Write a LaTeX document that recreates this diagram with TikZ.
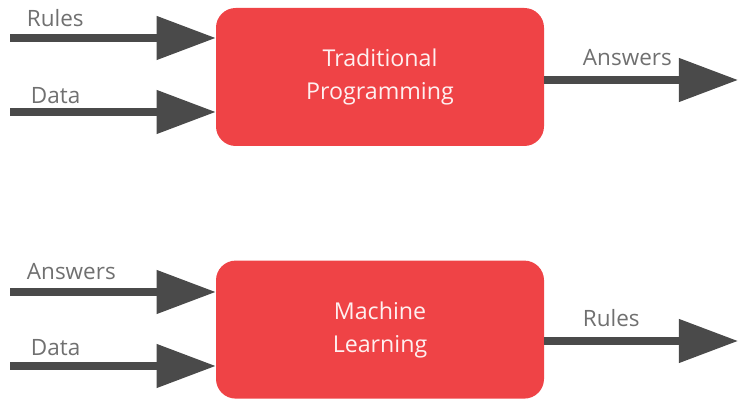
\documentclass[tikz,border=0pt]{standalone}
\usepackage{fontspec}
\setmainfont{Open Sans}
\usetikzlibrary{arrows.meta}
\definecolor{boxred}{HTML}{EF4346}
\definecolor{arrowgray}{HTML}{4A4A4A}
\definecolor{labelgray}{HTML}{707070}
\tikzset{
  procbox/.style={fill=boxred,rounded corners=14pt,minimum width=8.2cm,minimum height=3.45cm,
    text=white!92!boxred,align=center,font=\fontsize{16.5}{23.5}\selectfont},
  flow/.style={draw=arrowgray,line width=5pt,-{Triangle[length=42pt,width=30pt]}},
  flowlabel/.style={anchor=west,text=labelgray,font=\fontsize{16}{20}\selectfont}
}
\begin{document}
\begin{tikzpicture}[]
\useasboundingbox (0,0) rectangle (18.45,10);
\node[procbox] (tradprog) at (9.5,8.075) {Traditional\\Programming};
\node[procbox] (mlbox) at (9.5,1.76) {Machine\\Learning};
\coordinate (rulesin) at (0.25,9.05);
\coordinate (datain) at (0.25,7.2);
\coordinate (answersout) at (18.45,8.0);
\coordinate (answersin) at (0.25,2.7);
\coordinate (datamlin) at (0.25,0.85);
\coordinate (rulesout) at (18.45,1.475);
\draw[flow] (rulesin) -- (rulesin -| tradprog.west);
\draw[flow] (datain) -- (datain -| tradprog.west);
\draw[flow] (answersout -| tradprog.east) -- (answersout);
\draw[flow] (answersin) -- (answersin -| mlbox.west);
\draw[flow] (datamlin) -- (datamlin -| mlbox.west);
\draw[flow] (rulesout -| mlbox.east) -- (rulesout);
\node[flowlabel] (ruleslabel) at (0.55,9.55) {Rules};
\node[flowlabel] (datalabel) at (0.65,7.62) {Data};
\node[flowlabel] (answerslabel) at (14.45,8.55) {Answers};
\node[flowlabel] (answersmllabel) at (0.55,3.2) {Answers};
\node[flowlabel] (datamllabel) at (0.65,1.3) {Data};
\node[flowlabel] (rulesmllabel) at (14.45,2.05) {Rules};
\end{tikzpicture}
\end{document}
